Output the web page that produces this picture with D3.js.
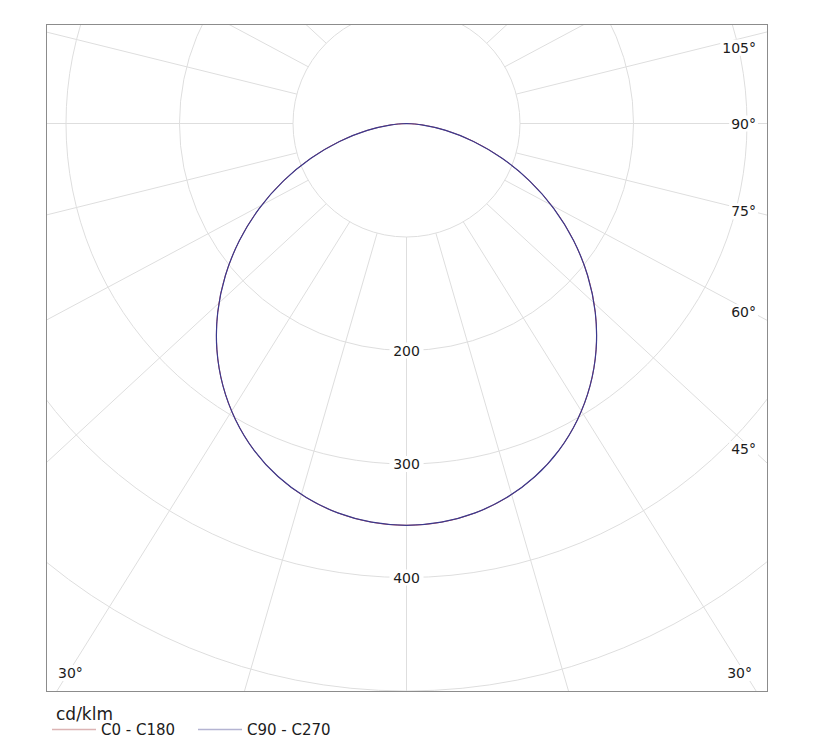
<!DOCTYPE html>
<html>
<head>
<meta charset="utf-8">
<script src="https://cdn.jsdelivr.net/npm/d3@7/dist/d3.min.js"></script>
<style>
  html, body { margin: 0; padding: 0; background: #fff; }
  svg { display: block; }
  text { font-family: "DejaVu Sans", Verdana, sans-serif; fill: #1c1c1c; }
</style>
</head>
<body>
<svg id="chart" width="816" height="755"></svg>
<script>
// ---- data ----
const gammaAngles = [0, 5, 10, 15, 20, 25, 30, 35, 40, 45, 50, 55, 60, 65, 70, 75, 80, 85, 90];
const c0c180   = [354, 352.6, 348.4, 341.2, 331.0, 317.7, 301.3, 282.0, 259.9, 235.2, 208.3, 179.7, 149.9, 119.6, 89.6, 61.1, 35.1, 13.5, 0];
const c90c270  = [354, 352.6, 348.4, 341.2, 331.0, 317.7, 301.3, 282.0, 259.9, 235.2, 208.3, 179.7, 149.9, 119.6, 89.6, 61.1, 35.1, 13.5, 0];
const seriesNames = ["C0 - C180", "C90 - C270"];
const seriesColors = ["#d05050", "#3a3a8e"];
const legendColors = ["#dcb4b4", "#b4b4d2"];
const ringValues = [100, 200, 300, 400, 500];
const ringLabels = [200, 300, 400];
const spokeAngles = d3.range(0, 360, 15);
const rightAngleLabels = [105, 90, 75, 60, 45, 30];
const leftAngleLabels = [30];
const unitLabel = "cd/klm";

// ---- layout ----
const svg = d3.select("#chart");
const frame = { x0: 46.5, y0: 24.5, x1: 767.5, y1: 691.5 };
const cx = 406.5, cy = 123.5;
const r = d3.scaleLinear().domain([0, 100]).range([0, 113.5]);
const rad = d => d * Math.PI / 180;
const spokeAspect = 0.925;

svg.append("defs").append("clipPath").attr("id", "frameClip")
  .append("rect").attr("x", frame.x0).attr("y", frame.y0)
  .attr("width", frame.x1 - frame.x0).attr("height", frame.y1 - frame.y0);

const plot = svg.append("g").attr("clip-path", "url(#frameClip)");
const g = plot.append("g").attr("transform", `translate(${cx},${cy})`);

// rings
g.selectAll("circle.ring").data(ringValues).join("circle")
  .attr("class", "ring").attr("r", d => r(d))
  .attr("fill", "none").attr("stroke", "#dedede").attr("stroke-width", 1);

// spokes from inner ring outwards
const innerR = r(ringValues[0]);
function spokeStart(a) { return [innerR * Math.sin(rad(a)), innerR * Math.cos(rad(a))]; }
function spokeEnd(a) {
  const s = spokeStart(a), L = 3000;
  return [s[0] + L * Math.sin(rad(a)), s[1] + L * spokeAspect * Math.cos(rad(a))];
}
g.selectAll("line.spoke").data(spokeAngles).join("line")
  .attr("class", "spoke")
  .attr("x1", d => spokeStart(d)[0]).attr("y1", d => spokeStart(d)[1])
  .attr("x2", d => spokeEnd(d)[0]).attr("y2", d => spokeEnd(d)[1])
  .attr("stroke", "#dedede").attr("stroke-width", 1);

// curves (mirrored: C0 on one side, C180 on the other)
function fullCurve(vals) {
  const pts = [];
  for (let i = gammaAngles.length - 1; i > 0; i--) pts.push({ a: -gammaAngles[i], v: vals[i] });
  for (let i = 0; i < gammaAngles.length; i++) pts.push({ a: gammaAngles[i], v: vals[i] });
  return pts;
}
const radial = d3.lineRadial()
  .angle(d => Math.PI - rad(d.a))
  .radius(d => r(d.v))
  .curve(d3.curveCatmullRom.alpha(0.5));
[c0c180, c90c270].forEach((vals, i) => {
  g.append("path").datum(fullCurve(vals))
    .attr("d", radial)
    .attr("fill", "none").attr("stroke", seriesColors[i]).attr("stroke-width", i === 0 ? 1 : 1.2);
});

// ring labels along the 0° spoke
ringLabels.forEach(v => {
  const y = cy + r(v);
  const grp = svg.append("g");
  grp.append("rect").attr("x", cx - 17).attr("y", y - 8).attr("width", 34).attr("height", 16).attr("fill", "#fff");
  grp.append("text").attr("x", cx).attr("y", y).attr("text-anchor", "middle")
    .attr("dominant-baseline", "central").style("font-size", "14px").text(v);
});

// angle labels
function spokeYAt(a, x) {
  const s = spokeStart(a);
  const dx = Math.sin(rad(a)), dy = spokeAspect * Math.cos(rad(a));
  const t = (x - cx - s[0]) / dx;
  return cy + s[1] + t * dy;
}
const labelMaxY = 673;
function angleLabel(a, x, y, anchor) {
  const grp = svg.append("g");
  const bg = grp.append("rect").attr("fill", "#fff");
  const txt = grp.append("text").attr("x", x).attr("y", y)
    .attr("text-anchor", anchor).attr("dominant-baseline", "central")
    .style("font-size", "14px").text(a + "°");
  const bb = txt.node().getBBox();
  bg.attr("x", bb.x - 2).attr("y", bb.y).attr("width", bb.width + 4).attr("height", bb.height);
}
rightAngleLabels.forEach(a => {
  let y = spokeYAt(a, 752) + (a > 90 ? 12 : 0);
  let xEnd = 756;
  if (y > labelMaxY) { y = labelMaxY; xEnd = 752; }
  angleLabel(a, xEnd, y, "end");
});
leftAngleLabels.forEach(a => angleLabel(a, 58, labelMaxY, "start"));

// frame
svg.append("rect").attr("x", frame.x0).attr("y", frame.y0)
  .attr("width", frame.x1 - frame.x0).attr("height", frame.y1 - frame.y0)
  .attr("fill", "none").attr("stroke", "#8c8c8c").attr("stroke-width", 1);

// legend
svg.append("text").attr("x", 56).attr("y", 720).style("font-size", "17px").text(unitLabel);
const legendX = [52, 198];
seriesNames.forEach((name, i) => {
  svg.append("line").attr("x1", legendX[i]).attr("x2", legendX[i] + 44)
    .attr("y1", 729.5).attr("y2", 729.5)
    .attr("stroke", legendColors[i]).attr("stroke-width", 1.3);
  svg.append("text").attr("x", legendX[i] + 49).attr("y", 735)
    .style("font-size", "15px").text(name);
});
</script>
</body>
</html>
